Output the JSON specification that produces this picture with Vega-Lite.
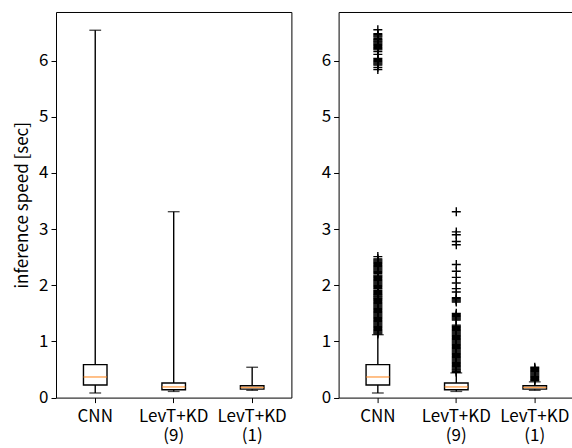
{
  "$schema": "https://vega.github.io/schema/vega-lite/v6.json",
  "padding": {"left": 13, "top": 11, "right": 0, "bottom": 0},
  "config": {
    "view": {"stroke": "black", "strokeWidth": 1},
    "font": "Noto Sans CJK JP",
    "axis": {"labelFont": "Noto Sans CJK JP", "labelFontSize": 17, "labelColor": "black", "tickColor": "black", "tickWidth": 1, "tickSize": 5, "labelPadding": 3, "domain": false, "grid": false, "titleFont": "Noto Sans CJK JP", "titleFontSize": 17, "titleFontWeight": "normal", "titleColor": "black"}
  },
  "datasets": {
    "boxes": [
      {"panel": "L", "g": "CNN", "lo": 0.082, "q1": 0.224, "med": 0.367, "q3": 0.587, "hi": 6.54},
      {"panel": "L", "g": "LevT+KD (9)", "lo": 0.11, "q1": 0.14, "med": 0.19, "q3": 0.26, "hi": 3.31},
      {"panel": "L", "g": "LevT+KD (1)", "lo": 0.13, "q1": 0.15, "med": 0.18, "q3": 0.21, "hi": 0.54},
      {"panel": "R", "g": "CNN", "lo": 0.082, "q1": 0.224, "med": 0.367, "q3": 0.587, "hi": 1.12},
      {"panel": "R", "g": "LevT+KD (9)", "lo": 0.11, "q1": 0.14, "med": 0.19, "q3": 0.26, "hi": 0.44},
      {"panel": "R", "g": "LevT+KD (1)", "lo": 0.13, "q1": 0.15, "med": 0.18, "q3": 0.21, "hi": 0.28}
    ],
    "fliers": [
      {"g": "CNN", "v": 1.13}, {"g": "CNN", "v": 1.15}, {"g": "CNN", "v": 1.17}, {"g": "CNN", "v": 1.19}, {"g": "CNN", "v": 1.21}, {"g": "CNN", "v": 1.23}, {"g": "CNN", "v": 1.25}, {"g": "CNN", "v": 1.27}, {"g": "CNN", "v": 1.29}, {"g": "CNN", "v": 1.31},
      {"g": "CNN", "v": 1.33}, {"g": "CNN", "v": 1.35}, {"g": "CNN", "v": 1.37}, {"g": "CNN", "v": 1.39}, {"g": "CNN", "v": 1.41}, {"g": "CNN", "v": 1.43}, {"g": "CNN", "v": 1.45}, {"g": "CNN", "v": 1.47}, {"g": "CNN", "v": 1.49}, {"g": "CNN", "v": 1.51},
      {"g": "CNN", "v": 1.53}, {"g": "CNN", "v": 1.55}, {"g": "CNN", "v": 1.57}, {"g": "CNN", "v": 1.59}, {"g": "CNN", "v": 1.61}, {"g": "CNN", "v": 1.63}, {"g": "CNN", "v": 1.65}, {"g": "CNN", "v": 1.67}, {"g": "CNN", "v": 1.69}, {"g": "CNN", "v": 1.71},
      {"g": "CNN", "v": 1.73}, {"g": "CNN", "v": 1.75}, {"g": "CNN", "v": 1.77}, {"g": "CNN", "v": 1.79}, {"g": "CNN", "v": 1.81}, {"g": "CNN", "v": 1.83}, {"g": "CNN", "v": 1.85}, {"g": "CNN", "v": 1.87}, {"g": "CNN", "v": 1.89}, {"g": "CNN", "v": 1.91},
      {"g": "CNN", "v": 1.94}, {"g": "CNN", "v": 1.96}, {"g": "CNN", "v": 1.98}, {"g": "CNN", "v": 2.0}, {"g": "CNN", "v": 2.02}, {"g": "CNN", "v": 2.04}, {"g": "CNN", "v": 2.06}, {"g": "CNN", "v": 2.08}, {"g": "CNN", "v": 2.1}, {"g": "CNN", "v": 2.12},
      {"g": "CNN", "v": 2.14}, {"g": "CNN", "v": 2.16}, {"g": "CNN", "v": 2.18}, {"g": "CNN", "v": 2.21}, {"g": "CNN", "v": 2.23}, {"g": "CNN", "v": 2.25}, {"g": "CNN", "v": 2.27}, {"g": "CNN", "v": 2.29}, {"g": "CNN", "v": 2.31}, {"g": "CNN", "v": 2.33},
      {"g": "CNN", "v": 2.35}, {"g": "CNN", "v": 2.37}, {"g": "CNN", "v": 2.39}, {"g": "CNN", "v": 2.41}, {"g": "CNN", "v": 2.43}, {"g": "CNN", "v": 2.45}, {"g": "CNN", "v": 2.47}, {"g": "CNN", "v": 2.51},
      {"g": "CNN", "v": 5.84}, {"g": "CNN", "v": 5.88}, {"g": "CNN", "v": 5.92}, {"g": "CNN", "v": 5.94}, {"g": "CNN", "v": 5.96}, {"g": "CNN", "v": 5.98}, {"g": "CNN", "v": 6.0}, {"g": "CNN", "v": 6.02}, {"g": "CNN", "v": 6.04}, {"g": "CNN", "v": 6.11},
      {"g": "CNN", "v": 6.16}, {"g": "CNN", "v": 6.19}, {"g": "CNN", "v": 6.21}, {"g": "CNN", "v": 6.23}, {"g": "CNN", "v": 6.25}, {"g": "CNN", "v": 6.27}, {"g": "CNN", "v": 6.29}, {"g": "CNN", "v": 6.31}, {"g": "CNN", "v": 6.33}, {"g": "CNN", "v": 6.35},
      {"g": "CNN", "v": 6.37}, {"g": "CNN", "v": 6.39}, {"g": "CNN", "v": 6.42}, {"g": "CNN", "v": 6.44}, {"g": "CNN", "v": 6.46}, {"g": "CNN", "v": 6.48}, {"g": "CNN", "v": 6.55},
      {"g": "LevT+KD (9)", "v": 0.45}, {"g": "LevT+KD (9)", "v": 0.47}, {"g": "LevT+KD (9)", "v": 0.49}, {"g": "LevT+KD (9)", "v": 0.51}, {"g": "LevT+KD (9)", "v": 0.53}, {"g": "LevT+KD (9)", "v": 0.55}, {"g": "LevT+KD (9)", "v": 0.57}, {"g": "LevT+KD (9)", "v": 0.59}, {"g": "LevT+KD (9)", "v": 0.61}, {"g": "LevT+KD (9)", "v": 0.63},
      {"g": "LevT+KD (9)", "v": 0.65}, {"g": "LevT+KD (9)", "v": 0.67}, {"g": "LevT+KD (9)", "v": 0.69}, {"g": "LevT+KD (9)", "v": 0.71}, {"g": "LevT+KD (9)", "v": 0.73}, {"g": "LevT+KD (9)", "v": 0.75}, {"g": "LevT+KD (9)", "v": 0.77}, {"g": "LevT+KD (9)", "v": 0.79}, {"g": "LevT+KD (9)", "v": 0.81}, {"g": "LevT+KD (9)", "v": 0.83},
      {"g": "LevT+KD (9)", "v": 0.85}, {"g": "LevT+KD (9)", "v": 0.87}, {"g": "LevT+KD (9)", "v": 0.89}, {"g": "LevT+KD (9)", "v": 0.91}, {"g": "LevT+KD (9)", "v": 0.93}, {"g": "LevT+KD (9)", "v": 0.95}, {"g": "LevT+KD (9)", "v": 0.97}, {"g": "LevT+KD (9)", "v": 0.99}, {"g": "LevT+KD (9)", "v": 1.01}, {"g": "LevT+KD (9)", "v": 1.03},
      {"g": "LevT+KD (9)", "v": 1.05}, {"g": "LevT+KD (9)", "v": 1.07}, {"g": "LevT+KD (9)", "v": 1.09}, {"g": "LevT+KD (9)", "v": 1.11}, {"g": "LevT+KD (9)", "v": 1.13}, {"g": "LevT+KD (9)", "v": 1.15}, {"g": "LevT+KD (9)", "v": 1.17}, {"g": "LevT+KD (9)", "v": 1.19}, {"g": "LevT+KD (9)", "v": 1.21}, {"g": "LevT+KD (9)", "v": 1.23},
      {"g": "LevT+KD (9)", "v": 1.25}, {"g": "LevT+KD (9)", "v": 1.27}, {"g": "LevT+KD (9)", "v": 1.29}, {"g": "LevT+KD (9)", "v": 1.38}, {"g": "LevT+KD (9)", "v": 1.4}, {"g": "LevT+KD (9)", "v": 1.42}, {"g": "LevT+KD (9)", "v": 1.44}, {"g": "LevT+KD (9)", "v": 1.46}, {"g": "LevT+KD (9)", "v": 1.48}, {"g": "LevT+KD (9)", "v": 1.5},
      {"g": "LevT+KD (9)", "v": 1.7}, {"g": "LevT+KD (9)", "v": 1.72}, {"g": "LevT+KD (9)", "v": 1.74}, {"g": "LevT+KD (9)", "v": 1.76}, {"g": "LevT+KD (9)", "v": 1.78}, {"g": "LevT+KD (9)", "v": 1.88}, {"g": "LevT+KD (9)", "v": 1.94}, {"g": "LevT+KD (9)", "v": 2.04}, {"g": "LevT+KD (9)", "v": 2.14}, {"g": "LevT+KD (9)", "v": 2.25},
      {"g": "LevT+KD (9)", "v": 2.37}, {"g": "LevT+KD (9)", "v": 2.72}, {"g": "LevT+KD (9)", "v": 2.78}, {"g": "LevT+KD (9)", "v": 2.9}, {"g": "LevT+KD (9)", "v": 2.95}, {"g": "LevT+KD (9)", "v": 3.31},
      {"g": "LevT+KD (1)", "v": 0.3}, {"g": "LevT+KD (1)", "v": 0.32}, {"g": "LevT+KD (1)", "v": 0.34}, {"g": "LevT+KD (1)", "v": 0.36}, {"g": "LevT+KD (1)", "v": 0.38}, {"g": "LevT+KD (1)", "v": 0.4}, {"g": "LevT+KD (1)", "v": 0.42}, {"g": "LevT+KD (1)", "v": 0.44}, {"g": "LevT+KD (1)", "v": 0.46}, {"g": "LevT+KD (1)", "v": 0.48},
      {"g": "LevT+KD (1)", "v": 0.5}, {"g": "LevT+KD (1)", "v": 0.52}, {"g": "LevT+KD (1)", "v": 0.54}
    ]
  },
  "spacing": 46.6,
  "bounds": "flush",
  "hconcat": [
    {
      "width": 235.4,
      "height": 385.6,
      "data": {"name": "boxes"},
      "transform": [{"filter": "datum.panel === 'L'"}],
      "encoding": {
        "x": {"field": "g", "type": "nominal", "sort": null, "scale": {"type": "band", "domain": ["CNN", "LevT+KD (9)", "LevT+KD (1)"], "paddingInner": 0.7, "paddingOuter": 0.35}, "axis": {"title": null, "labelAngle": 0, "bandPosition": 0.5, "labelExpr": "split(datum.label, ' ')", "labelLineHeight": 19, "labelPadding": 6}}
      },
      "layer": [
        {"mark": {"type": "rule", "color": "black", "strokeWidth": 1.4}, "encoding": {"y": {"field": "lo", "type": "quantitative", "scale": {"domain": [0, 6.865], "nice": false, "zero": false}, "axis": {"title": "inference speed [sec]", "values": [0, 1, 2, 3, 4, 5, 6], "format": "d", "titlePadding": 7}}, "y2": {"field": "q1"}}},
        {"mark": {"type": "rule", "color": "black", "strokeWidth": 1.4}, "encoding": {"y": {"field": "q3", "type": "quantitative"}, "y2": {"field": "hi"}}},
        {"mark": {"type": "tick", "color": "black", "thickness": 1.4, "size": 11.8}, "encoding": {"y": {"field": "lo", "type": "quantitative"}}},
        {"mark": {"type": "tick", "color": "black", "thickness": 1.4, "size": 11.8}, "encoding": {"y": {"field": "hi", "type": "quantitative"}}},
        {"mark": {"type": "bar", "filled": false, "stroke": "black", "strokeWidth": 1.4}, "encoding": {"y": {"field": "q1", "type": "quantitative"}, "y2": {"field": "q3"}}},
        {"mark": {"type": "tick", "color": "#ff7f0e", "thickness": 1.4, "size": 23.5}, "encoding": {"y": {"field": "med", "type": "quantitative"}}}
      ]
    },
    {
      "width": 235.4,
      "height": 385.6,
      "encoding": {
        "x": {"field": "g", "type": "nominal", "sort": null, "scale": {"type": "band", "domain": ["CNN", "LevT+KD (9)", "LevT+KD (1)"], "paddingInner": 0.7, "paddingOuter": 0.35}, "axis": {"title": null, "labelAngle": 0, "bandPosition": 0.5, "labelExpr": "split(datum.label, ' ')", "labelLineHeight": 19, "labelPadding": 6}}
      },
      "layer": [
        {"data": {"name": "boxes"}, "transform": [{"filter": "datum.panel === 'R'"}], "mark": {"type": "rule", "color": "black", "strokeWidth": 1.4}, "encoding": {"y": {"field": "lo", "type": "quantitative", "scale": {"domain": [0, 6.865], "nice": false, "zero": false}, "axis": {"title": null, "values": [0, 1, 2, 3, 4, 5, 6], "format": "d"}}, "y2": {"field": "q1"}}},
        {"data": {"name": "boxes"}, "transform": [{"filter": "datum.panel === 'R'"}], "mark": {"type": "rule", "color": "black", "strokeWidth": 1.4}, "encoding": {"y": {"field": "q3", "type": "quantitative"}, "y2": {"field": "hi"}}},
        {"data": {"name": "boxes"}, "transform": [{"filter": "datum.panel === 'R'"}], "mark": {"type": "tick", "color": "black", "thickness": 1.4, "size": 11.8}, "encoding": {"y": {"field": "lo", "type": "quantitative"}}},
        {"data": {"name": "boxes"}, "transform": [{"filter": "datum.panel === 'R'"}], "mark": {"type": "tick", "color": "black", "thickness": 1.4, "size": 11.8}, "encoding": {"y": {"field": "hi", "type": "quantitative"}}},
        {"data": {"name": "boxes"}, "transform": [{"filter": "datum.panel === 'R'"}], "mark": {"type": "bar", "filled": false, "stroke": "black", "strokeWidth": 1.4}, "encoding": {"y": {"field": "q1", "type": "quantitative"}, "y2": {"field": "q3"}}},
        {"data": {"name": "boxes"}, "transform": [{"filter": "datum.panel === 'R'"}], "mark": {"type": "tick", "color": "#ff7f0e", "thickness": 1.4, "size": 23.5}, "encoding": {"y": {"field": "med", "type": "quantitative"}}},
        {"data": {"name": "fliers"}, "mark": {"type": "point", "shape": "M-1,0H1M0,-1V1", "filled": false, "stroke": "black", "strokeWidth": 1.4, "size": 81, "opacity": 1}, "encoding": {"y": {"field": "v", "type": "quantitative"}}}
      ]
    }
  ]
}
